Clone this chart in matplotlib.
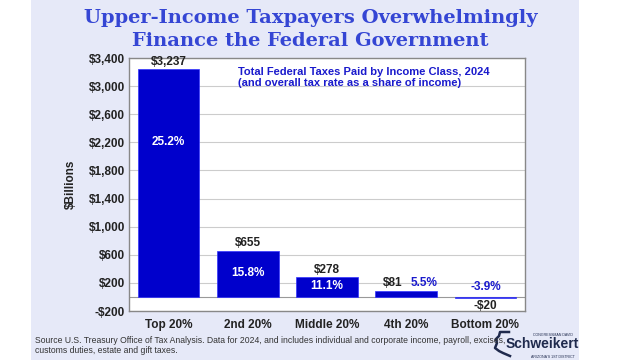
import matplotlib
matplotlib.use("Agg")
from matplotlib import pyplot as plt
from matplotlib.patches import Rectangle
from matplotlib.lines import Line2D

# data
categories = ["Top 20%", "2nd 20%", "Middle 20%", "4th 20%", "Bottom 20%"]
taxes = [3237, 655, 278, 81, -20]
tax_labels = ["$3,237", "$655", "$278", "$81", "-$20"]
rates = ["25.2%", "15.8%", "11.1%", "5.5%", "-3.9%"]
yticks = [-200, 200, 600, 1000, 1400, 1800, 2200, 2600, 3000, 3400]

BG = "#e6e9f8"
BAR = "#0000cc"
BLUE = "#1a1acc"
NAVY = "#1f2a4d"
plt.rcParams['font.family'] = ['Liberation Sans', 'DejaVu Sans']

fig = plt.figure(figsize=(6.4, 3.6), dpi=100, facecolor="white")
fig.patches.append(Rectangle((31/640, 0), 548/640, 1, transform=fig.transFigure,
                             facecolor=BG, edgecolor="none", zorder=-10))

fig.text(0.486, 0.95, "Upper-Income Taxpayers Overwhelmingly", ha="center", va="center",
         fontsize=14, fontweight="bold", family="DejaVu Serif", color="#3546d4")
fig.text(0.484, 0.886, "Finance the Federal Government", ha="center", va="center",
         fontsize=14, fontweight="bold", family="DejaVu Serif", color="#3546d4")

ax = fig.add_axes([129/640, 49/360, 396/640, 253/360])
ax.set_facecolor("white")
x = list(range(len(categories)))
ax.bar(x, taxes, width=0.78, color=BAR, edgecolor="#3333ff", linewidth=0.5, zorder=3)
ax.set_xlim(-0.5, 4.5)
ax.set_ylim(-200, 3400)
ax.set_yticks(yticks)
ax.set_yticklabels([("-$" if t < 0 else "$") + format(abs(t), ",") for t in yticks],
                   fontsize=8.5, fontweight="bold", color="#222222")
ax.set_xticks(x)
ax.set_xticklabels(categories, fontsize=8.5, fontweight="bold", color="#222222")
ax.tick_params(axis="both", length=0, pad=6)
ax.tick_params(axis="y", pad=3)
ax.grid(axis="y", color="#cccccc", linewidth=0.8, zorder=0)
ax.axhline(0, color="#999999", linewidth=0.8, zorder=2)
for s in ax.spines.values():
    s.set_color("#888888")
    s.set_linewidth(1)
ax.set_ylabel("$Billions", fontsize=8.5, fontweight="bold", color="#222222", labelpad=8)

for i, v in enumerate(taxes):
    if v < 0:
        ax.text(i, v - 30, tax_labels[i], ha="center", va="top", fontsize=8.5,
                fontweight="bold", color="#222222")
        ax.text(i, v + 80, rates[i], ha="center", va="bottom", fontsize=8.5,
                fontweight="bold", color=BLUE)
    elif v < 200:
        ax.text(i - 0.17, v + 25, tax_labels[i], ha="center", va="bottom", fontsize=8.5,
                fontweight="bold", color="#222222")
        ax.text(i + 0.23, v + 35, rates[i], ha="center", va="bottom", fontsize=8.5,
                fontweight="bold", color=BLUE)
    else:
        ax.text(i, v + 25, tax_labels[i], ha="center", va="bottom", fontsize=8.5,
                fontweight="bold", color="#222222")
        ax.text(i, 2200 if v > 2200 else v / 2 + 15, rates[i], ha="center", va="center",
                fontsize=8.5, fontweight="bold", color="white")

ax.text(0.275, 0.965, "Total Federal Taxes Paid by Income Class, 2024\n(and overall tax rate as a share of income)",
        transform=ax.transAxes, ha="left", va="top", fontsize=8, fontweight="bold",
        color=BLUE, linespacing=1.1)

fig.text(35/640, 1 - 345.5/360, "Source U.S. Treasury Office of Tax Analysis. Data for 2024, and includes individual and corporate income, payroll, excises,\ncustoms duties, estate and gift taxes.",
         ha="left", va="center", fontsize=6.2, color="#333333", linespacing=1.2)

# logo
fig.text(542/640, 1 - 344/360, "Schweikert", ha="center", va="center", fontsize=10,
         fontweight="bold", color=NAVY)
fig.text(553/640, 1 - 335/360, "CONGRESSMAN DAVID", ha="center", va="center", fontsize=2.6,
         color=NAVY)
fig.text(553/640, 1 - 357/360, "ARIZONA'S 1ST DISTRICT", ha="center", va="center", fontsize=2.6,
         color=NAVY)
az_x = [509, 500, 499, 496, 497, 495, 499, 503, 510]
az_y = [332, 332, 336, 339, 343, 348, 351, 353, 356]
fig.lines.append(Line2D([p / 640 for p in az_x], [1 - p / 360 for p in az_y],
                        transform=fig.transFigure, color=NAVY, linewidth=1.8))

plt.savefig("out.png", dpi=100, facecolor=fig.get_facecolor())
